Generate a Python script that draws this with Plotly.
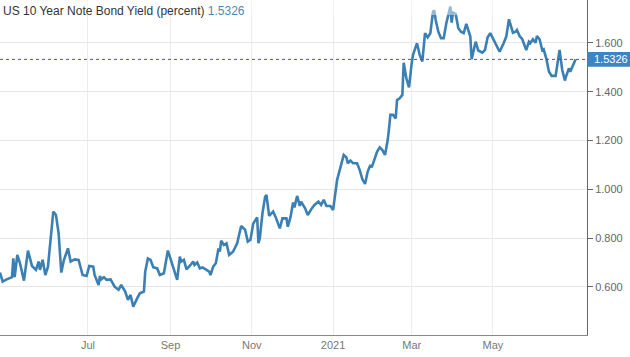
import plotly.graph_objects as go

title_text = "US 10 Year Note Bond Yield (percent)"
last_value = 1.5326

dates_2020 = [
    "2020-04-26", "2020-04-28", "2020-05-01", "2020-05-05", "2020-05-06", "2020-05-07",
    "2020-05-09", "2020-05-11", "2020-05-14", "2020-05-17", "2020-05-20", "2020-05-23",
    "2020-05-25", "2020-05-26", "2020-05-28", "2020-05-30", "2020-06-01", "2020-06-05",
    "2020-06-07", "2020-06-09", "2020-06-11", "2020-06-13", "2020-06-16", "2020-06-18",
    "2020-06-21", "2020-06-24", "2020-06-27", "2020-06-30", "2020-07-02", "2020-07-05",
    "2020-07-06", "2020-07-09", "2020-07-10", "2020-07-11", "2020-07-13", "2020-07-15",
    "2020-07-18", "2020-07-21", "2020-07-24", "2020-07-26", "2020-07-29", "2020-07-31",
    "2020-08-02", "2020-08-04", "2020-08-07", "2020-08-09", "2020-08-12", "2020-08-13",
    "2020-08-15", "2020-08-17", "2020-08-19", "2020-08-22", "2020-08-24", "2020-08-27",
    "2020-08-30", "2020-09-01", "2020-09-04", "2020-09-06", "2020-09-08", "2020-09-09",
    "2020-09-11", "2020-09-13", "2020-09-16", "2020-09-18", "2020-09-19", "2020-09-21",
    "2020-09-23", "2020-09-25", "2020-09-28", "2020-09-30", "2020-10-01", "2020-10-03",
    "2020-10-05", "2020-10-07", "2020-10-08", "2020-10-09", "2020-10-11", "2020-10-13",
    "2020-10-15", "2020-10-18", "2020-10-21", "2020-10-24", "2020-10-27", "2020-10-29",
    "2020-10-31", "2020-11-02", "2020-11-03", "2020-11-05", "2020-11-06", "2020-11-07",
    "2020-11-09", "2020-11-11", "2020-11-12", "2020-11-14", "2020-11-17", "2020-11-19",
    "2020-11-22", "2020-11-24", "2020-11-27", "2020-11-28", "2020-11-30", "2020-12-02",
    "2020-12-03", "2020-12-05", "2020-12-07", "2020-12-08", "2020-12-11", "2020-12-13",
    "2020-12-16", "2020-12-18", "2020-12-21", "2020-12-23", "2020-12-25", "2020-12-27",
    "2020-12-30",
]
yields_2020 = [
    0.659, 0.622, 0.631, 0.640, 0.717, 0.640,
    0.731, 0.697, 0.626, 0.749, 0.686, 0.670,
    0.704, 0.670, 0.711, 0.649, 0.683, 0.909,
    0.895, 0.820, 0.659, 0.711, 0.758, 0.704,
    0.713, 0.711, 0.649, 0.645, 0.686, 0.683,
    0.649, 0.608, 0.645, 0.631, 0.640, 0.629,
    0.631, 0.601, 0.588, 0.608, 0.581, 0.547,
    0.567, 0.519, 0.554, 0.574, 0.581, 0.663,
    0.717, 0.711, 0.681, 0.676, 0.649, 0.656,
    0.749, 0.717, 0.670, 0.629, 0.724, 0.704,
    0.711, 0.672, 0.690, 0.704, 0.690, 0.700,
    0.676, 0.680, 0.670, 0.663, 0.649, 0.683,
    0.697, 0.758, 0.745, 0.790, 0.772, 0.779,
    0.731, 0.745, 0.779, 0.850, 0.834, 0.786,
    0.793, 0.858, 0.868, 0.885, 0.779, 0.799,
    0.902, 0.970, 0.977, 0.891, 0.909, 0.885,
    0.840, 0.881, 0.881, 0.847, 0.885, 0.946,
    0.926, 0.973, 0.932, 0.950, 0.922, 0.895,
    0.922, 0.936, 0.950, 0.936, 0.957, 0.932,
    0.932,
]
dates_2021 = [
    "2021-01-01", "2021-01-04", "2021-01-07", "2021-01-09", "2021-01-11", "2021-01-12",
    "2021-01-14", "2021-01-16", "2021-01-19", "2021-01-21", "2021-01-23", "2021-01-25",
    "2021-01-27", "2021-01-29", "2021-01-30", "2021-02-01", "2021-02-03", "2021-02-05",
    "2021-02-07", "2021-02-09", "2021-02-11", "2021-02-12", "2021-02-13", "2021-02-15",
    "2021-02-17", "2021-02-18", "2021-02-20", "2021-02-22", "2021-02-23", "2021-02-25",
    "2021-02-27", "2021-03-01", "2021-03-02", "2021-03-05", "2021-03-07", "2021-03-09",
    "2021-03-10", "2021-03-11", "2021-03-13", "2021-03-15", "2021-03-17", "2021-03-18",
    "2021-03-19", "2021-03-21", "2021-03-23", "2021-03-25", "2021-03-27", "2021-03-29",
    "2021-03-30", "2021-03-31", "2021-04-01", "2021-04-03", "2021-04-05", "2021-04-07",
    "2021-04-09", "2021-04-11", "2021-04-13", "2021-04-14", "2021-04-15", "2021-04-17",
    "2021-04-18", "2021-04-20", "2021-04-23", "2021-04-25", "2021-04-27", "2021-04-29",
    "2021-05-01", "2021-05-03", "2021-05-06", "2021-05-09", "2021-05-11", "2021-05-13",
    "2021-05-14", "2021-05-16", "2021-05-18", "2021-05-19", "2021-05-21", "2021-05-23",
    "2021-05-26", "2021-05-28", "2021-05-29", "2021-05-31", "2021-06-02", "2021-06-03",
    "2021-06-05", "2021-06-07", "2021-06-08", "2021-06-10", "2021-06-12", "2021-06-14",
    "2021-06-17", "2021-06-18", "2021-06-20", "2021-06-22", "2021-06-24", "2021-06-25",
    "2021-06-27", "2021-06-28", "2021-06-30", "2021-07-02",
]
yields_2021 = [
    0.915, 1.038, 1.107, 1.141, 1.131, 1.107,
    1.118, 1.107, 1.107, 1.079, 1.041, 1.022,
    1.073, 1.100, 1.090, 1.127, 1.154, 1.172,
    1.161, 1.141, 1.202, 1.250, 1.305, 1.305,
    1.291, 1.366, 1.373, 1.387, 1.519, 1.455,
    1.418, 1.517, 1.551, 1.599, 1.551, 1.524,
    1.599, 1.640, 1.623, 1.640, 1.728, 1.733,
    1.694, 1.646, 1.619, 1.619, 1.681, 1.719,
    1.749, 1.683, 1.724, 1.719, 1.660, 1.646,
    1.640, 1.678, 1.640, 1.626, 1.533, 1.585,
    1.605, 1.569, 1.560, 1.571, 1.623, 1.640,
    1.619, 1.592, 1.564, 1.599, 1.626, 1.697,
    1.678, 1.642, 1.646, 1.653, 1.628, 1.615,
    1.571, 1.605, 1.599, 1.615, 1.601, 1.628,
    1.615, 1.571, 1.574, 1.537, 1.483, 1.465,
    1.465, 1.506, 1.571, 1.489, 1.446, 1.465,
    1.496, 1.482, 1.510, 1.5326,
]

tick_dates = ["2020-07-01", "2020-09-01", "2020-11-01", "2021-01-01", "2021-03-01", "2021-05-01"]
tick_labels = ["Jul", "Sep", "Nov", "2021", "Mar", "May"]
y_ticks = [0.6, 0.8, 1.0, 1.2, 1.4, 1.6]

dates = dates_2020 + dates_2021
yields = yields_2020 + yields_2021

FONT = "Liberation Sans, Arial, sans-serif"
LINE_COLOR = "#3b80b5"

fig = go.Figure()
fig.add_trace(go.Scatter(
    x=dates, y=yields, mode="lines",
    line=dict(color=LINE_COLOR, width=2.6, shape="linear"),
    hoverinfo="x+y", showlegend=False,
))

fig.update_layout(
    width=630, height=357,
    margin=dict(l=0, r=43, t=0, b=22),
    paper_bgcolor="white", plot_bgcolor="white",
    font=dict(family=FONT, size=11, color="#666"),
    xaxis=dict(
        type="date",
        range=["2020-04-26", "2021-07-10 14:00"],
        tickvals=tick_dates, ticktext=tick_labels,
        showgrid=True, gridcolor="#ececec", gridwidth=1,
        showline=True, linecolor="#888", linewidth=1,
        ticks="", tickfont=dict(size=11, color="#777"),
        zeroline=False,
    ),
    yaxis=dict(
        side="right",
        range=[0.403, 1.776],
        tickvals=y_ticks, tickformat=".3f",
        showgrid=True, gridcolor="#e6e6e6", gridwidth=1,
        showline=True, linecolor="#666", linewidth=1,
        ticks="outside", ticklen=5, tickcolor="#666",
        tickfont=dict(size=11, color="#666"),
        zeroline=False,
    ),
)

# fade band at the top behind the title
fig.add_shape(type="rect", xref="paper", yref="paper", x0=0, x1=1, y0=0.955, y1=1,
              fillcolor="rgba(255,255,255,0.45)", line=dict(width=0), layer="above")

# dotted last-value line
fig.add_shape(type="line", xref="paper", yref="y", x0=0, x1=1, y0=last_value, y1=last_value,
              line=dict(color="#4b4fa8", width=1, dash="dot"), layer="above")

# last-value label box on the right axis
fig.add_shape(type="rect", xref="paper", yref="y", x0=1.0, x1=1.074,
              y0=last_value - 0.030, y1=last_value + 0.030,
              fillcolor="#3d84c4", line=dict(width=0), layer="above")
fig.add_annotation(xref="paper", yref="y", x=1.008, y=last_value, xanchor="left", yanchor="middle",
                   text=f"{last_value:.4f}", showarrow=False,
                   font=dict(family=FONT, size=11, color="white"))

# title
fig.add_annotation(xref="paper", yref="paper", x=0.002, y=0.995, xanchor="left", yanchor="top",
                   text=f"{title_text} <span style='color:#4a8ab8'>{last_value:.4f}</span>",
                   showarrow=False, font=dict(family=FONT, size=12, color="#333"))

fig.write_html("out.html", config={"displayModeBar": False},
               post_script="document.body.style.margin='0';")
